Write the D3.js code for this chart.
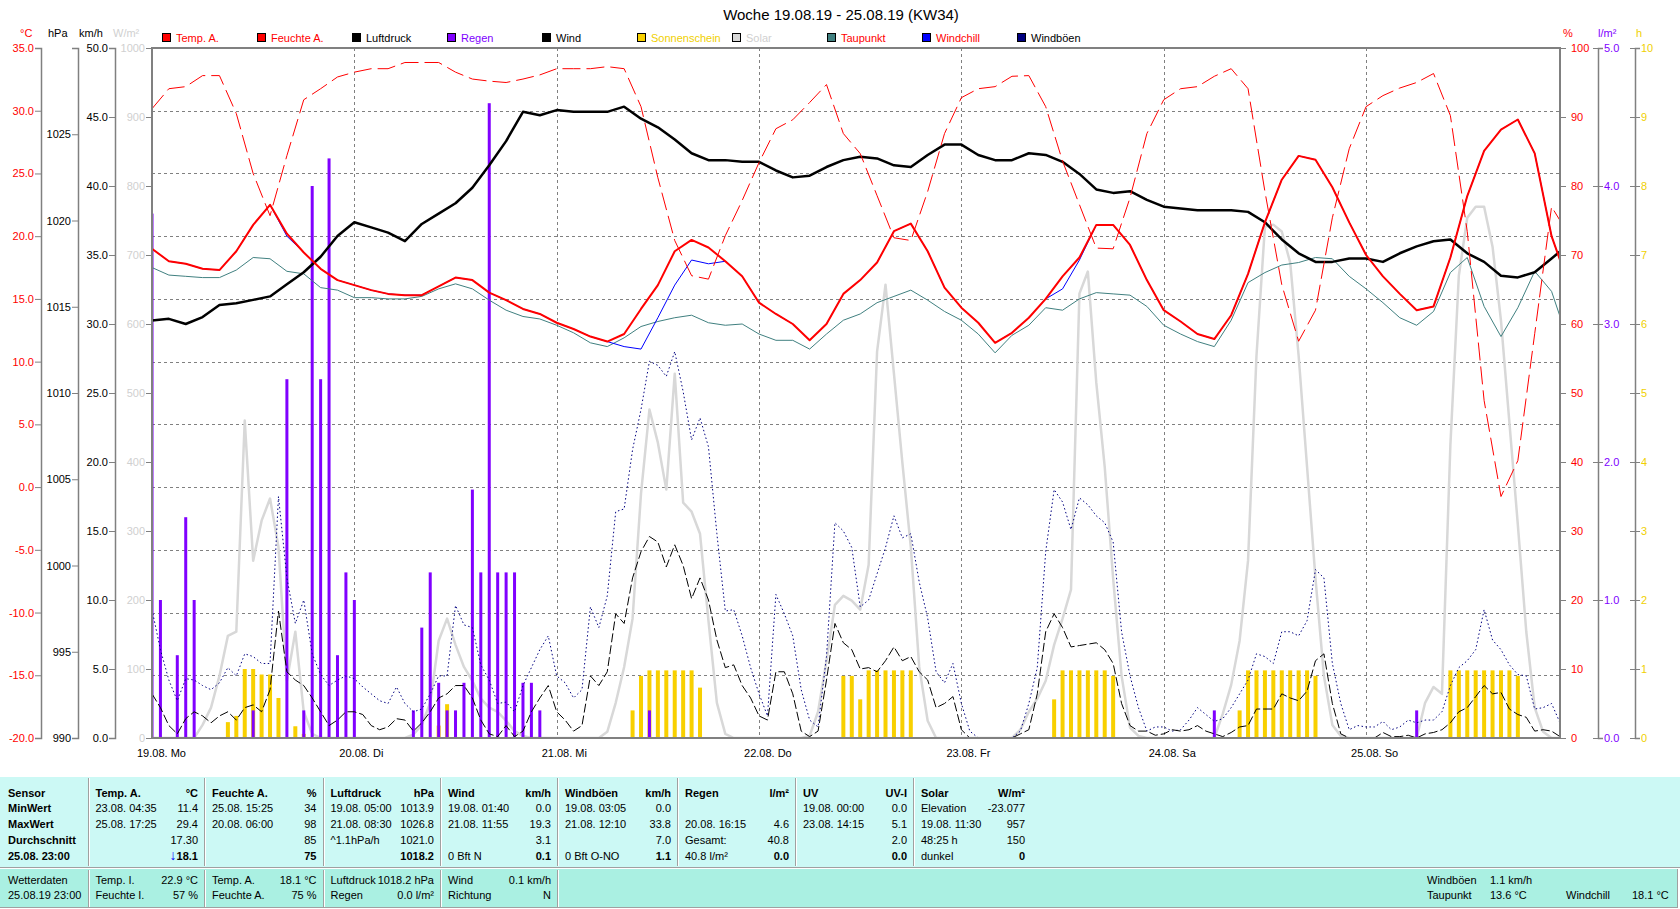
<!DOCTYPE html>
<html>
<head>
<meta charset="utf-8">
<script src="https://cdn.jsdelivr.net/npm/d3@7"></script>
<style>
body { margin: 0; background: #fff; }
svg text { font-family: "Liberation Sans", Arial, sans-serif; font-size: 11px; }
</style>
</head>
<body>
<svg id="svg" width="1680" height="909"></svg>
<script>
// hours since 19.08. 00:00, two-hourly series (last point 25.08. 23:00)
var t2 = d3.range(0, 167, 2).concat([167]);

var tempA = [19.0,18.0,17.8,17.4,17.3,18.8,20.9,22.5,20.2,18.7,
	17.4,16.5,16.1,15.7,15.4,15.3,15.3,16.0,16.7,16.5,
	15.5,14.9,14.2,13.8,13.1,12.6,12.0,11.6,12.2,14.2,
	16.1,18.8,19.7,19.1,18.0,16.8,14.7,13.8,13.0,11.7,
	13.0,15.4,16.5,17.9,20.4,21.0,18.8,15.9,14.3,13.1,
	11.5,12.3,13.5,15.0,16.8,18.3,20.9,20.9,19.3,16.5,
	14.1,13.2,12.2,11.8,13.7,17.0,21.1,24.5,26.4,26.1,
	23.9,21.1,18.5,16.8,15.4,14.1,14.4,18.3,23.2,26.8,
	28.5,29.3,26.6,20.0,18.1];

var windchill = [19.0,18.0,17.8,17.4,17.3,18.8,20.9,22.5,20.0,18.7,
	17.4,16.5,16.1,15.7,15.4,15.3,15.3,16.0,16.7,16.5,
	15.5,14.9,14.2,13.8,13.1,12.6,12.0,11.6,11.2,11.0,
	13.5,16.1,18.1,17.8,18.0,16.8,14.7,13.8,13.0,11.7,
	13.0,15.4,16.5,17.9,20.4,21.0,18.8,15.9,14.3,13.1,
	11.5,12.3,13.5,15.0,15.8,18.1,20.9,20.9,19.3,16.5,
	14.1,13.2,12.2,11.8,13.7,17.0,21.1,24.5,26.4,26.1,
	23.9,21.1,18.5,16.8,15.4,14.1,14.4,18.3,23.2,26.8,
	28.5,29.3,26.6,20.0,18.1];

var dewPoint = [17.5,16.9,16.8,16.7,16.7,17.3,18.3,18.2,17.2,17.0,
	15.9,15.7,15.1,15.1,15.0,15.0,15.2,15.8,16.2,15.8,
	14.9,14.1,13.6,13.4,12.9,12.3,11.5,11.2,11.9,12.8,
	13.2,13.5,13.7,13.1,12.9,13.0,12.2,11.7,11.7,11.0,
	12.2,13.3,13.8,14.7,15.2,15.7,14.9,14.0,13.3,12.2,
	10.7,12.1,12.9,14.3,14.1,15.0,15.5,15.4,15.3,14.4,
	12.9,12.2,11.6,11.2,13.3,16.3,17.1,17.7,17.9,18.3,
	18.2,16.8,15.8,14.7,13.5,12.9,14.0,17.1,18.3,14.4,
	12.0,14.3,17.2,15.6,13.6];

var pressure = [1014.2,1014.3,1014.0,1014.4,1015.1,1015.2,1015.4,1015.6,1016.3,1017.0,
	1017.9,1019.1,1019.9,1019.6,1019.3,1018.8,1019.8,1020.4,1021.0,1021.9,
	1023.2,1024.6,1026.3,1026.1,1026.4,1026.3,1026.3,1026.3,1026.6,1025.9,
	1025.4,1024.7,1023.9,1023.5,1023.5,1023.4,1023.4,1022.9,1022.5,1022.6,
	1023.1,1023.5,1023.7,1023.6,1023.2,1023.1,1023.8,1024.4,1024.4,1023.8,
	1023.5,1023.5,1023.9,1023.8,1023.4,1022.7,1021.8,1021.6,1021.7,1021.2,
	1020.8,1020.7,1020.6,1020.6,1020.6,1020.5,1019.9,1018.9,1018.1,1017.6,
	1017.6,1017.8,1017.8,1017.6,1018.1,1018.5,1018.8,1018.9,1018.1,1017.6,
	1016.8,1016.7,1017.0,1017.8,1018.2];

var humidity = [91.2,94.1,94.4,96.0,96.0,90.5,81.8,75.7,84.4,92.5,
	94.1,95.8,96.5,97.0,97.0,97.9,97.9,97.9,96.5,95.5,
	95.2,95.0,95.5,96.1,97.0,97.0,97.0,97.3,97.0,91.5,
	81.2,72.1,67.0,66.5,72.8,77.9,83.4,88.3,89.6,92.1,
	94.7,87.6,84.7,78.6,72.5,72.1,79.2,87.6,92.8,94.1,
	94.4,95.9,96.0,91.5,83.6,77.3,71.0,70.9,78.3,87.6,
	92.5,94.1,94.4,95.9,97.0,94.1,79.2,65.7,57.5,62.0,
	75.4,85.4,91.5,93.1,94.2,95.0,96.3,90.2,73.4,48.9,
	35.0,40.2,58.6,77.0,75.0];

// hourly series
var t1 = d3.range(0, 168);

var solar = [0,0,0,0,0,0,19,44,90,148,154,460,
	257,315,347,277,83,154,38,6,0,0,0,0,
	0,0,0,0,0,0,0,5,19,51,141,173,
	135,103,83,57,44,38,25,10,3,0,0,0,
	0,0,0,0,0,0,9,51,103,173,354,476,
	428,360,528,341,328,296,170,51,6,0,0,0,
	0,0,0,0,0,0,3,38,112,193,206,199,
	186,251,560,657,528,399,277,103,25,0,0,0,
	0,0,0,0,0,0,0,12,38,57,83,135,
	173,215,644,676,515,393,231,90,15,3,0,0,
	0,0,0,0,0,0,0,35,77,141,257,554,
	741,744,734,689,554,393,231,90,19,3,0,0,
	0,0,0,0,0,0,0,51,74,64,425,670,
	754,770,770,712,605,457,309,154,44,9,0,0];

var wind = [3.2,2.2,0.9,0.3,1.4,1.9,1.6,1.1,1.6,1.9,1.3,2.2,
	2.4,1.9,3.5,9.2,4.8,4.2,3.8,2.9,1.9,0.9,1.3,1.9,
	1.9,1.7,0.9,0.6,0.8,1.4,1.3,0.5,1.1,1.9,2.9,3.2,
	3.8,3.8,2.9,1.3,0.3,0.1,0.9,0.1,0.5,1.9,2.9,3.8,
	1.9,1.3,0.5,0.9,4.5,3.8,4.8,9.0,8.3,11.6,13.5,14.6,
	14.2,12.4,14.0,12.5,10.1,11.6,10.0,7.1,5.1,5.3,3.8,2.9,
	1.6,1.3,4.8,4.8,3.2,0.5,0.1,0.5,4.2,8.3,6.9,6.4,
	5.0,5.1,4.8,5.6,6.6,5.6,5.9,4.8,4.2,2.2,2.5,3.0,
	0.6,0,0,0,0,0,0,0.3,0.6,3.2,7.7,9.0,
	8.0,6.6,6.7,6.8,6.9,6.4,5.4,2.5,0.9,0.5,0.5,0.2,
	0.3,0.6,0.5,0.6,0.9,0.5,0.3,0.1,0.4,0.8,0.9,2.1,
	2.1,2.1,3.2,2.9,2.7,3.4,5.6,6.1,2.5,0.3,0,0,
	0,0,0.4,0.1,0.1,0.2,0,0.3,0.4,0.6,1.1,1.9,
	2.2,3.0,3.8,3.2,3.3,2.1,1.7,1.5,0.5,0.6,0.5,0.1];

var gusts = [9.3,6.4,4.2,2.7,4.3,4.2,3.8,3.5,4.0,5.1,4.5,6.1,
	5.9,5.4,5.4,17.5,11.6,8.3,10.0,6.1,4.6,3.8,4.2,4.5,
	4.3,3.7,3.2,2.7,2.5,3.7,2.5,1.9,2.1,3.2,4.5,4.5,
	9.6,8.2,8.0,5.3,4.2,2.5,2.6,1.9,3.8,5.1,6.4,7.4,
	4.5,4.0,2.9,3.5,9.5,8.0,10.3,16.4,16.6,20.9,23.8,27.3,
	27.0,26.2,28.0,25.1,21.6,23.2,21.1,14.8,9.2,9.3,7.4,5.1,
	3.2,1.6,10.4,9.0,7.4,3.5,1.3,0.8,5.9,15.6,15.0,13.8,
	9.5,10.0,11.9,13.8,16.1,14.5,14.8,11.3,8.7,4.8,4.0,5.4,
	2.5,0.5,0,0,0,0,0,0.5,2.5,5.1,13.5,18.0,
	17.1,15.1,17.4,16.9,16.1,15.6,14.2,7.7,4.5,2.2,0.5,0.8,
	0.8,0.5,0.6,1.3,2.2,1.7,1.2,1.4,2.2,3.2,4.2,6.1,
	5.9,5.4,7.7,7.7,7.4,8.5,12.2,11.6,5.4,2.5,0.6,0.9,
	0.8,0.8,1.2,0.6,0.8,1.3,1.1,1.3,1.3,1.9,3.8,5.1,
	5.6,6.4,9.3,7.1,6.4,5.3,4.6,4.5,2.1,2.2,2.5,1.1];

// rain (l/m2 per hour) and sunshine (h per hour)
var rainHours = [0,1,3,4,5,12,16,18,19,20,21,22,23,24,31,32,33,34,35,36,37,38,39,40,41,42,43,44,45,46,59,126,150];
var rainValues = [3.8,1.0,0.6,1.6,1.0,0.2,2.6,0.2,4.0,2.6,4.2,0.6,1.2,1.0,0.2,0.8,1.2,0.4,0.2,0.2,0.4,1.8,1.2,4.6,1.2,1.2,1.2,0.4,0.4,0.2,0.2,0.2,0.2];

var sunHours = [9,10,11,12,13,14,15,17,18,34,35,
	57,58,59,60,61,62,63,64,65,
	82,83,84,85,86,87,88,89,90,
	107,108,109,110,111,112,113,114,
	129,130,131,132,133,134,135,136,137,138,
	154,155,156,157,158,159,160,161,162];
var sunValues = [0.23,0.32,1.0,1.0,0.92,0.92,0.58,0.17,0.06,0.18,0.49,
	0.4,0.9,0.98,0.98,0.98,0.98,0.98,0.98,0.73,
	0.9,0.9,0.56,0.98,0.98,0.98,0.98,0.98,0.98,
	0.56,0.98,0.98,0.98,0.98,0.98,0.98,0.9,
	0.4,0.98,0.98,0.98,0.98,0.98,0.98,0.98,0.98,0.9,
	0.98,0.98,0.98,0.98,0.98,0.98,0.98,0.98,0.9];

var dayLabels = ["19.08. Mo","20.08. Di","21.08. Mi","22.08. Do","23.08. Fr","24.08. Sa","25.08. So"];
var tempTicks = d3.range(-20, 36, 5);
var hpaTicks = d3.range(990, 1026, 5);
var kmhTicks = d3.range(0, 51, 5);
var solarTicks = d3.range(0, 1001, 100);
var humTicks = d3.range(0, 101, 10);
var rainTicks = [0, 1, 2, 3, 4, 5];
var sunTicks = d3.range(0, 11, 1);

//////////////////////////////////////////////////////////////////////////////
var svg = d3.select("#svg");
var pLeft = 152, pRight = 1560, pTop = 48, pBottom = 738;

var x = d3.scaleLinear().domain([0, 167]).range([pLeft, pRight]);
var yC = d3.scaleLinear().domain([-20, 35]).range([pBottom, pTop]);
var yP = d3.scaleLinear().domain([990, 1030]).range([pBottom, pTop]);
var yK = d3.scaleLinear().domain([0, 50]).range([pBottom, pTop]);
var yW = d3.scaleLinear().domain([0, 1000]).range([pBottom, pTop]);
var yH = d3.scaleLinear().domain([0, 100]).range([pBottom, pTop]);
var yR = d3.scaleLinear().domain([0, 5]).range([pBottom, pTop]);
var yS = d3.scaleLinear().domain([0, 10]).range([pBottom, pTop]);

svg.append("text").attr("x", 841).attr("y", 20).attr("text-anchor", "middle")
	.style("font-size", "15px").attr("fill", "#000")
	.text("Woche 19.08.19 - 25.08.19 (KW34)");

// grid
var grid = svg.append("g");
grid.selectAll("line.h").data(tempTicks.slice(1, -1)).enter().append("line")
	.attr("x1", pLeft).attr("x2", pRight)
	.attr("y1", function(d) { return Math.round(yC(d)) + 0.5; })
	.attr("y2", function(d) { return Math.round(yC(d)) + 0.5; })
	.attr("stroke", "#808080").attr("stroke-dasharray", "3,3");
grid.selectAll("line.v").data([24, 48, 72, 96, 120, 144]).enter().append("line")
	.attr("y1", pTop).attr("y2", pBottom)
	.attr("x1", function(d) { return Math.round(x(d)) + 0.5; })
	.attr("x2", function(d) { return Math.round(x(d)) + 0.5; })
	.attr("stroke", "#808080").attr("stroke-dasharray", "3,3");

// series
svg.append("clipPath").attr("id", "clip").append("rect")
	.attr("x", pLeft).attr("y", pTop).attr("width", pRight - pLeft).attr("height", pBottom - pTop);
var plot = svg.append("g").attr("clip-path", "url(#clip)");

function drawLine(times, values, yScale, color, width, dash) {
	var line = d3.line()
		.x(function(d, i) { return x(times[i]); })
		.y(function(d) { return yScale(d); });
	plot.append("path").datum(values)
		.attr("d", line)
		.attr("fill", "none")
		.attr("stroke", color)
		.attr("stroke-width", width)
		.attr("stroke-linejoin", "round")
		.attr("stroke-dasharray", dash || null);
}

function drawBars(times, values, yScale, color, width) {
	plot.append("g").selectAll("rect").data(values).enter().append("rect")
		.attr("x", function(d, i) { return x(times[i]) - width / 2; })
		.attr("width", width)
		.attr("y", function(d) { return yScale(d); })
		.attr("height", function(d) { return pBottom - yScale(d); })
		.attr("fill", color);
}

drawLine(t1, solar, yW, "#d8d8d8", 2.5);
drawBars(sunHours, sunValues, yS, "#f8d000", 4);
drawBars(rainHours, rainValues, yR, "#8000ff", 3);
drawLine(t1, gusts, yK, "#000080", 1, "1.5,2.5");
drawLine(t1, wind, yK, "#000000", 1, "9,3");
drawLine(t2, dewPoint, yC, "#408080", 1);
drawLine(t2, windchill, yC, "#0000ff", 1);
drawLine(t2, pressure, yP, "#000000", 2.5);
drawLine(t2, humidity, yH, "#ff0000", 1, "18,6");
drawLine(t2, tempA, yC, "#ff0000", 2);

// frame
svg.append("rect").attr("x", pLeft).attr("y", pTop)
	.attr("width", pRight - pLeft).attr("height", pBottom - pTop)
	.attr("fill", "none").attr("stroke", "#808080").attr("stroke-width", 2);

// axes
function styleAxis(g, color) {
	g.select(".domain").attr("stroke", "#808080").attr("stroke-width", 1.5);
	g.selectAll(".tick line").attr("stroke", "#808080");
	g.selectAll(".tick text").attr("fill", color);
}
function fix1(d) { return d.toFixed(1); }

svg.append("g").attr("transform", "translate(41,0)")
	.call(d3.axisLeft(yC).tickValues(tempTicks).tickFormat(fix1).tickSizeOuter(0).tickSize(6).tickPadding(1))
	.call(styleAxis, "#ff0000");
svg.append("g").attr("transform", "translate(78,0)")
	.call(d3.axisLeft(yP).tickValues(hpaTicks).tickFormat(function(d) { return d; }).tickSizeOuter(0).tickSize(6).tickPadding(1))
	.call(styleAxis, "#000000");
svg.append("g").attr("transform", "translate(115,0)")
	.call(d3.axisLeft(yK).tickValues(kmhTicks).tickFormat(fix1).tickSizeOuter(0).tickSize(6).tickPadding(1))
	.call(styleAxis, "#000000");
svg.append("g").attr("transform", "translate(152,0)")
	.call(d3.axisLeft(yW).tickValues(solarTicks).tickFormat(function(d) { return d; }).tickSizeOuter(0).tickSize(6).tickPadding(1))
	.call(styleAxis, "#d0d0d0")
	.select(".domain").attr("stroke", "none");
svg.append("g").attr("transform", "translate(1560,0)")
	.call(d3.axisRight(yH).tickValues(humTicks).tickFormat(function(d) { return d; }).tickSizeOuter(0).tickSize(6).tickPadding(5))
	.call(styleAxis, "#ff0000")
	.select(".domain").attr("stroke", "none");
var rAx = svg.append("g").attr("transform", "translate(1598,0)")
	.call(d3.axisRight(yR).tickValues(rainTicks).tickFormat(fix1).tickSizeOuter(0).tickSize(5).tickPadding(1))
	.call(styleAxis, "#8000ff");
rAx.selectAll(".tick line").attr("x1", -5);
var sAx = svg.append("g").attr("transform", "translate(1635,0)")
	.call(d3.axisRight(yS).tickValues(sunTicks).tickFormat(function(d) { return d; }).tickSizeOuter(0).tickSize(5).tickPadding(1))
	.call(styleAxis, "#f0d000");
sAx.selectAll(".tick line").attr("x1", -5);

// axis units
var units = [["°C", 20, "#ff0000"], ["hPa", 48, "#000"], ["km/h", 79, "#000"], ["W/m²", 113, "#d0d0d0"],
	["%", 1563, "#ff0000"], ["l/m²", 1598, "#8000ff"], ["h", 1636, "#f0d000"]];
svg.selectAll("text.unit").data(units).enter().append("text")
	.attr("x", function(d) { return d[1]; }).attr("y", 37)
	.attr("fill", function(d) { return d[2]; })
	.text(function(d) { return d[0]; });

// day labels
svg.selectAll("text.day").data(dayLabels).enter().append("text")
	.attr("x", function(d, i) { return x(i * 24) - 15; }).attr("y", 757)
	.attr("fill", "#000")
	.text(function(d) { return d; });

// legend
var legend = [["Temp. A.", "#ff0000", "#ff0000"], ["Feuchte A.", "#ff0000", "#ff0000"],
	["Luftdruck", "#000000", "#000000"], ["Regen", "#8000ff", "#8000ff"],
	["Wind", "#000000", "#000000"], ["Sonnenschein", "#f8d000", "#f0d000"],
	["Solar", "#d8d8d8", "#d0d0d0"], ["Taupunkt", "#408080", "#ff0000"],
	["Windchill", "#0000ff", "#ff0000"], ["Windböen", "#000080", "#000000"]];
var lg = svg.selectAll("g.leg").data(legend).enter().append("g")
	.attr("transform", function(d, i) { return "translate(" + (162 + i * 95) + ",0)"; });
lg.append("rect").attr("x", 0.5).attr("y", 33.5).attr("width", 8).attr("height", 8)
	.attr("fill", function(d) { return d[1]; }).attr("stroke", "#000");
lg.append("text").attr("x", 14).attr("y", 42)
	.attr("fill", function(d) { return d[2]; })
	.text(function(d) { return d[0]; });

//////////////////////////////////////////////////////////////////////////////
// table below the chart
var colEdges = [0, 87.5, 204, 322.5, 440, 557, 677, 795, 913, 1031];
var rowY = [797, 812, 827.5, 844, 860];
var sensorNames = ["Sensor", "MinWert", "MaxWert", "Durchschnitt", "25.08.  23:00"];
var sensors = [
	["Temp. A.", "°C", ["23.08.  04:35", "25.08.  17:25", "", ""], ["11.4", "29.4", "17.30", "18.1"]],
	["Feuchte A.", "%", ["25.08.  15:25", "20.08.  06:00", "", ""], ["34", "98", "85", "75"]],
	["Luftdruck", "hPa", ["19.08.  05:00", "21.08.  08:30", "^1.1hPa/h", ""], ["1013.9", "1026.8", "1021.0", "1018.2"]],
	["Wind", "km/h", ["19.08.  01:40", "21.08.  11:55", "", " 0 Bft N"], ["0.0", "19.3", "3.1", "0.1"]],
	["Windböen", "km/h", ["19.08.  03:05", "21.08.  12:10", "", " 0 Bft O-NO"], ["0.0", "33.8", "7.0", "1.1"]],
	["Regen", "l/m²", ["", "20.08.  16:15", "Gesamt:", " 40.8 l/m²"], ["", "4.6", "40.8", "0.0"]],
	["UV", "UV-I", ["19.08.  00:00", "23.08.  14:15", "", ""], ["0.0", "5.1", "2.0", "0.0"]],
	["Solar", "W/m²", ["Elevation", "19.08.  11:30", "48:25 h", "dunkel"], ["-23.077", "957", "150", "0"]]
];
var current = [
	["Temp. I.", "22.9 °C", "Feuchte I.", "57 %"],
	["Temp. A.", "18.1 °C", "Feuchte A.", "75 %"],
	["Luftdruck", "1018.2 hPa", "Regen", "0.0 l/m²"],
	["Wind", "0.1 km/h", "Richtung", "N"]
];

var tb = svg.append("g").style("white-space", "pre");
tb.append("rect").attr("x", 0).attr("y", 777).attr("width", 1680).attr("height", 91).attr("fill", "#ccf9f5");
tb.append("rect").attr("x", 0).attr("y", 869).attr("width", 1678).attr("height", 39).attr("fill", "#aaf0e2");
tb.append("line").attr("x1", 0).attr("x2", 1680).attr("y1", 867.5).attr("y2", 867.5).attr("stroke", "#a0a0a0");
tb.append("line").attr("x1", 0).attr("x2", 1680).attr("y1", 868.5).attr("y2", 868.5).attr("stroke", "#fff");
tb.append("line").attr("x1", 0).attr("x2", 1678).attr("y1", 907.5).attr("y2", 907.5).attr("stroke", "#a0a0a0");
tb.append("line").attr("x1", 1677.5).attr("x2", 1677.5).attr("y1", 869).attr("y2", 908).attr("stroke", "#a0a0a0");

colEdges.slice(1, 9).forEach(function(cx) {
	tb.append("line").attr("x1", Math.round(cx) + 0.5).attr("x2", Math.round(cx) + 0.5)
		.attr("y1", 778).attr("y2", 866).attr("stroke", "#a0a0a0");
	tb.append("line").attr("x1", Math.round(cx) + 1.5).attr("x2", Math.round(cx) + 1.5)
		.attr("y1", 778).attr("y2", 866).attr("stroke", "#fff");
});
colEdges.slice(1, 6).forEach(function(cx) {
	tb.append("line").attr("x1", Math.round(cx) + 0.5).attr("x2", Math.round(cx) + 0.5)
		.attr("y1", 870).attr("y2", 907).attr("stroke", "#a0a0a0");
	tb.append("line").attr("x1", Math.round(cx) + 1.5).attr("x2", Math.round(cx) + 1.5)
		.attr("y1", 870).attr("y2", 907).attr("stroke", "#fff");
});

sensorNames.forEach(function(s, i) {
	tb.append("text").attr("x", 8).attr("y", rowY[i]).attr("font-weight", "bold").text(s);
});
sensors.forEach(function(s, c) {
	var x0 = colEdges[c + 1] + 8, x1 = colEdges[c + 2] - 6;
	tb.append("text").attr("x", x0).attr("y", rowY[0]).attr("font-weight", "bold").text(s[0]);
	tb.append("text").attr("x", x1).attr("y", rowY[0]).attr("font-weight", "bold")
		.attr("text-anchor", "end").text(s[1]);
	for (var r = 0; r < 4; ++r) {
		tb.append("text").attr("x", x0).attr("y", rowY[r + 1]).text(s[2][r]);
		var t = tb.append("text").attr("x", x1).attr("y", rowY[r + 1]).attr("text-anchor", "end")
			.attr("font-weight", r == 3 ? "bold" : null);
		if (c == 0 && r == 3) {
			t.append("tspan").attr("fill", "#0000ff").style("font-size", "14px").text("↓");
		}
		t.append("tspan").text(s[3][r]);
	}
});

tb.append("text").attr("x", 8).attr("y", 884).text("Wetterdaten");
tb.append("text").attr("x", 8).attr("y", 899).text("25.08.19 23:00");
current.forEach(function(s, c) {
	var x0 = colEdges[c + 1] + 8, x1 = colEdges[c + 2] - 6;
	tb.append("text").attr("x", x0).attr("y", 884).text(s[0]);
	tb.append("text").attr("x", x1).attr("y", 884).attr("text-anchor", "end").text(s[1]);
	tb.append("text").attr("x", x0).attr("y", 899).text(s[2]);
	tb.append("text").attr("x", x1).attr("y", 899).attr("text-anchor", "end").text(s[3]);
});
tb.append("text").attr("x", 1427).attr("y", 884).text("Windböen");
tb.append("text").attr("x", 1490).attr("y", 884).text("1.1 km/h");
tb.append("text").attr("x", 1427).attr("y", 899).text("Taupunkt");
tb.append("text").attr("x", 1490).attr("y", 899).text("13.6 °C");
tb.append("text").attr("x", 1566).attr("y", 899).text("Windchill");
tb.append("text").attr("x", 1632).attr("y", 899).text("18.1 °C");
</script>
</body>
</html>
